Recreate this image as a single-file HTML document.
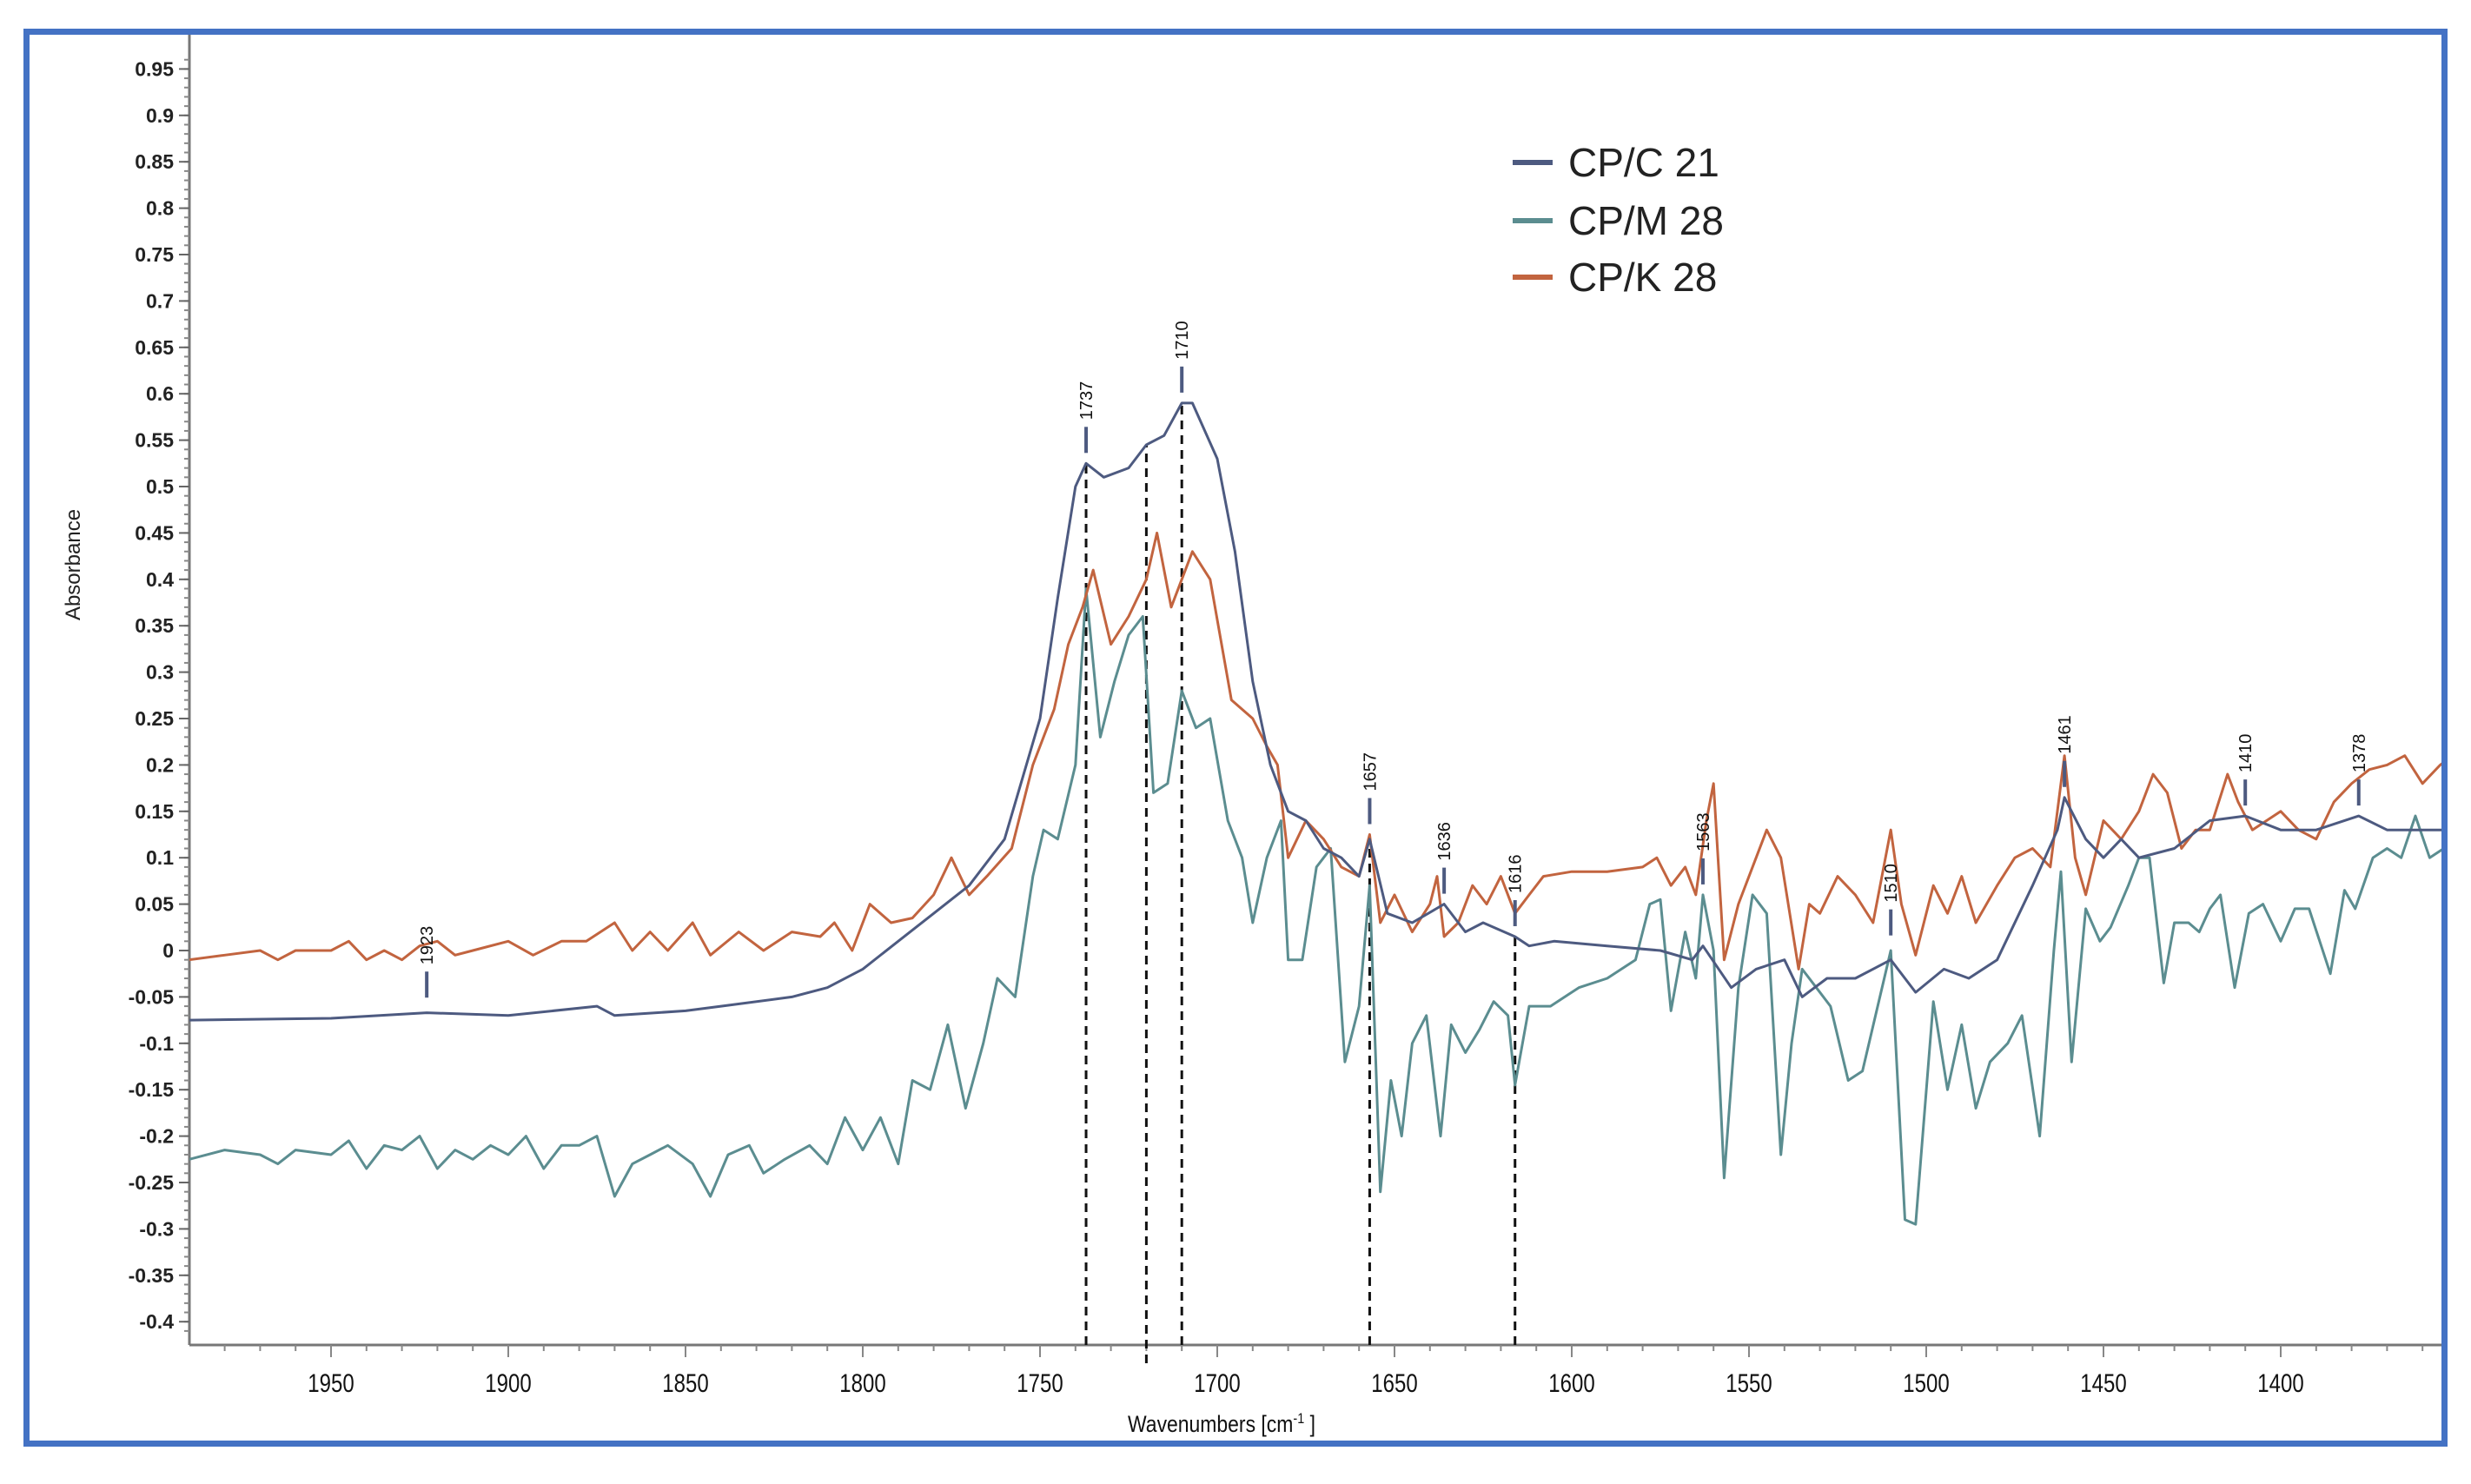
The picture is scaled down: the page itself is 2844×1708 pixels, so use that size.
<!DOCTYPE html>
<html><head><meta charset="utf-8">
<style>
html,body{margin:0;padding:0;background:#fff;}
body{width:2844px;height:1708px;overflow:hidden;position:relative;font-family:"Liberation Sans",sans-serif;}
#frame{position:absolute;left:27px;top:33px;width:2776px;height:1618px;border:7px solid #4472c4;}
svg{position:absolute;left:0;top:0;}
</style></head>
<body>
<div id="frame"></div>
<svg id="chart" width="2844" height="1708"></svg>
<script>
const yTicks=[0.95,0.9,0.85,0.8,0.75,0.7,0.65,0.6,0.55,0.5,0.45,0.4,0.35,0.3,0.25,0.2,0.15,0.1,0.05,0,-0.05,-0.1,-0.15,-0.2,-0.25,-0.3,-0.35,-0.4];
const xTicks=[1950,1900,1850,1800,1750,1700,1650,1600,1550,1500,1450,1400];
const cW=[1990,1950,1923,1900,1875,1870,1850,1840,1820,1810,1800,1790,1780,1770,1760,1750,1745,1740,1737,1732,1725,1720,1715,1710,1707,1700,1695,1690,1685,1680,1675,1670,1665,1660,1657,1652,1645,1636,1630,1625,1616,1612,1605,1590,1575,1566,1563,1555,1548,1540,1535,1528,1520,1510,1503,1495,1488,1480,1470,1463,1461,1455,1450,1445,1440,1430,1420,1410,1400,1390,1378,1370,1350,1342];
const cV=[-0.075,-0.073,-0.067,-0.07,-0.06,-0.07,-0.065,-0.06,-0.05,-0.04,-0.02,0.01,0.04,0.07,0.12,0.25,0.38,0.5,0.525,0.51,0.52,0.545,0.555,0.59,0.59,0.53,0.43,0.29,0.2,0.15,0.14,0.11,0.1,0.08,0.12,0.04,0.03,0.05,0.02,0.03,0.015,0.005,0.01,0.005,0,-0.01,0.005,-0.04,-0.02,-0.01,-0.05,-0.03,-0.03,-0.01,-0.045,-0.02,-0.03,-0.01,0.07,0.13,0.165,0.12,0.1,0.12,0.1,0.11,0.14,0.145,0.13,0.13,0.145,0.13,0.13,0.13];
const kW=[1990,1980,1970,1965,1960,1950,1945,1940,1935,1930,1925,1920,1915,1910,1900,1893,1885,1878,1870,1865,1860,1855,1848,1843,1835,1828,1820,1812,1808,1803,1798,1792,1786,1780,1775,1770,1765,1758,1752,1746,1742,1738,1735,1730,1725,1720,1717,1713,1710,1707,1702,1696,1690,1686,1683,1680,1675,1670,1665,1660,1657,1654,1650,1645,1640,1638,1636,1632,1628,1624,1620,1616,1612,1608,1600,1590,1580,1576,1572,1568,1565,1562,1560,1557,1553,1548,1545,1541,1536,1533,1530,1525,1520,1515,1510,1507,1503,1498,1494,1490,1486,1480,1475,1470,1465,1461,1458,1455,1450,1445,1440,1436,1432,1428,1424,1420,1415,1412,1408,1404,1400,1395,1390,1385,1380,1375,1370,1365,1360,1355,1348,1345,1342];
const kV=[-0.01,-0.005,0,-0.01,0,0,0.01,-0.01,0,-0.01,0.005,0.01,-0.005,0,0.01,-0.005,0.01,0.01,0.03,0,0.02,0,0.03,-0.005,0.02,0,0.02,0.015,0.03,0,0.05,0.03,0.035,0.06,0.1,0.06,0.08,0.11,0.2,0.26,0.33,0.37,0.41,0.33,0.36,0.4,0.45,0.37,0.4,0.43,0.4,0.27,0.25,0.22,0.2,0.1,0.14,0.12,0.09,0.08,0.125,0.03,0.06,0.02,0.05,0.08,0.015,0.03,0.07,0.05,0.08,0.04,0.06,0.08,0.085,0.085,0.09,0.1,0.07,0.09,0.06,0.14,0.18,-0.01,0.05,0.1,0.13,0.1,-0.02,0.05,0.04,0.08,0.06,0.03,0.13,0.05,-0.005,0.07,0.04,0.08,0.03,0.07,0.1,0.11,0.09,0.21,0.1,0.06,0.14,0.12,0.15,0.19,0.17,0.11,0.13,0.13,0.19,0.16,0.13,0.14,0.15,0.13,0.12,0.16,0.18,0.195,0.2,0.21,0.18,0.2,0.22,0.2,0.195];
const mW=[1990,1980,1970,1965,1960,1950,1945,1940,1935,1930,1925,1920,1915,1910,1905,1900,1895,1890,1885,1880,1875,1870,1865,1860,1855,1848,1843,1838,1832,1828,1822,1815,1810,1805,1800,1795,1790,1786,1781,1776,1771,1766,1762,1757,1752,1749,1745,1740,1737,1733,1729,1725,1721,1718,1714,1710,1706,1702,1697,1693,1690,1686,1682,1680,1676,1672,1668,1664,1660,1657,1654,1651,1648,1645,1641,1637,1634,1630,1626,1622,1618,1616,1612,1606,1598,1590,1582,1578,1575,1572,1568,1565,1563,1560,1557,1553,1549,1545,1541,1538,1535,1531,1527,1522,1518,1510,1506,1503,1498,1494,1490,1486,1482,1477,1473,1468,1464,1462,1459,1455,1451,1448,1443,1440,1437,1433,1430,1426,1423,1420,1417,1413,1409,1405,1400,1396,1392,1386,1382,1379,1374,1370,1366,1362,1358,1354,1350,1347,1344,1342];
const mV=[-0.225,-0.215,-0.22,-0.23,-0.215,-0.22,-0.205,-0.235,-0.21,-0.215,-0.2,-0.235,-0.215,-0.225,-0.21,-0.22,-0.2,-0.235,-0.21,-0.21,-0.2,-0.265,-0.23,-0.22,-0.21,-0.23,-0.265,-0.22,-0.21,-0.24,-0.225,-0.21,-0.23,-0.18,-0.215,-0.18,-0.23,-0.14,-0.15,-0.08,-0.17,-0.1,-0.03,-0.05,0.08,0.13,0.12,0.2,0.39,0.23,0.29,0.34,0.36,0.17,0.18,0.28,0.24,0.25,0.14,0.1,0.03,0.1,0.14,-0.01,-0.01,0.09,0.11,-0.12,-0.06,0.07,-0.26,-0.14,-0.2,-0.1,-0.07,-0.2,-0.08,-0.11,-0.085,-0.055,-0.07,-0.145,-0.06,-0.06,-0.04,-0.03,-0.01,0.05,0.055,-0.065,0.02,-0.03,0.06,0,-0.245,-0.04,0.06,0.04,-0.22,-0.1,-0.02,-0.04,-0.06,-0.14,-0.13,0,-0.29,-0.295,-0.055,-0.15,-0.08,-0.17,-0.12,-0.1,-0.07,-0.2,0,0.085,-0.12,0.045,0.01,0.025,0.07,0.1,0.1,-0.035,0.03,0.03,0.02,0.045,0.06,-0.04,0.04,0.05,0.01,0.045,0.045,-0.025,0.065,0.045,0.1,0.11,0.1,0.145,0.1,0.11,0.12,0.08,0.095,0.09];
const peakW=[1923,1737,1710,1657,1636,1616,1563,1510,1461,1410,1378];
const peakV=[-0.062,0.525,0.59,0.125,0.05,0.015,0.06,0.005,0.165,0.145,0.145];
const dashW=[1737,1720,1710,1657,1616];
const dashV=[0.525,0.545,0.59,0.12,0.015];

const NS="http://www.w3.org/2000/svg";
const svg=document.getElementById('chart');
const X0=218,X1=2810,YB=1548,YT=40;
function xs(w){return 381+(1950-w)*4.08;}
function ys(v){return 1094-v*1068;}
function mk(tag,attrs,parent){const e=document.createElementNS(NS,tag);for(const k in attrs)e.setAttribute(k,attrs[k]);(parent||svg).appendChild(e);return e;}

const defs=mk('defs',{});
const cp=mk('clipPath',{id:'plotclip'},defs);
mk('rect',{x:X0,y:YT,width:X1-X0,height:YB-YT},cp);

const yAxis=mk('g',{});


mk('line',{x1:X0,y1:YT,x2:X0,y2:YB,stroke:'#777','stroke-width':3},yAxis);
for(let v=-0.41;v<=0.97;v+=0.01){const y=ys(v);if(y<YT||y>YB)continue;mk('line',{x1:X0-6,y1:y,x2:X0,y2:y,stroke:'#888','stroke-width':2},yAxis);}
yTicks.forEach(v=>{const y=ys(v);
mk('line',{x1:X0-12,y1:y,x2:X0,y2:y,stroke:'#666','stroke-width':2},yAxis);
const t=mk('text',{x:X0-18,y:y+8,'text-anchor':'end','font-size':23,'font-weight':'bold',fill:'#222'},yAxis);


t.textContent=String(v);});
const yt=mk('text',{x:0,y:0,transform:'translate(92,650) rotate(-90)','text-anchor':'middle','font-size':24,fill:'#222'});


yt.textContent='Absorbance';

const xAxis=mk('g',{});


mk('line',{x1:X0,y1:YB,x2:X1,y2:YB,stroke:'#777','stroke-width':3},xAxis);
for(let w=1990;w>=1340;w-=10){const x=xs(w);if(x<X0||x>X1)continue;mk('line',{x1:x,y1:YB,x2:x,y2:YB+7,stroke:'#888','stroke-width':2},xAxis);}
xTicks.forEach(w=>{const x=xs(w);
mk('line',{x1:x,y1:YB,x2:x,y2:YB+14,stroke:'#888','stroke-width':2},xAxis);
const t=mk('text',{x:x,y:1602,'text-anchor':'middle','font-size':30,fill:'#111',transform:`translate(${x},0) scale(0.8,1) translate(${-x},0)`},xAxis);


t.textContent=String(w);});
const xt=mk('text',{x:1406,y:1648,'text-anchor':'middle','font-size':27,fill:'#111',transform:'translate(1406,0) scale(0.85,1) translate(-1406,0)'});


xt.innerHTML='Wavenumbers [cm<tspan font-size="17" dy="-10">-1</tspan><tspan dy="10"> ]</tspan>';

dashW.forEach((w,i)=>{const x=xs(w);
const l=mk('line',{x1:x,y1:(w===1720?1569:YB),x2:x,y2:ys(dashV[i]),stroke:'#111','stroke-width':3,'stroke-dasharray':'10,7'});

});

function series(W,V,color,name){
const d=W.map((w,i)=>(i?'L':'M')+xs(w).toFixed(1)+','+ys(V[i]).toFixed(1)).join(' ');
const p=mk('path',{d:d,fill:'none',stroke:color,'stroke-width':3,'stroke-linejoin':'round','clip-path':'url(#plotclip)'});

}
series(mW,mV,'#5b8d90','series-cp-m-28');
series(kW,kV,'#c2643f','series-cp-k-28');
series(cW,cV,'#4d5a80','series-cp-c-21');

peakW.forEach((w,i)=>{const x=xs(w),y=ys(peakV[i]);
const g=mk('g',{});


mk('line',{x1:x,y1:y-12,x2:x,y2:y-42,stroke:'#4d5a80','stroke-width':4},g);
const t=mk('text',{x:0,y:0,transform:`translate(${x+7},${y-50}) rotate(-90)`,'font-size':20,fill:'#111'},g);
t.textContent=String(w);});

const lg=mk('g',{});


[['CP/C 21','#4d5a80',187],['CP/M 28','#5b8d90',254],['CP/K 28','#c2643f',319]].forEach(a=>{
const e=mk('g',{},lg);


mk('line',{x1:1741,y1:a[2],x2:1787,y2:a[2],stroke:a[1],'stroke-width':6},e);
const t=mk('text',{x:1805,y:a[2]+16,'font-size':46,fill:'#222'},e);t.textContent=a[0];});
</script>
</body></html>
